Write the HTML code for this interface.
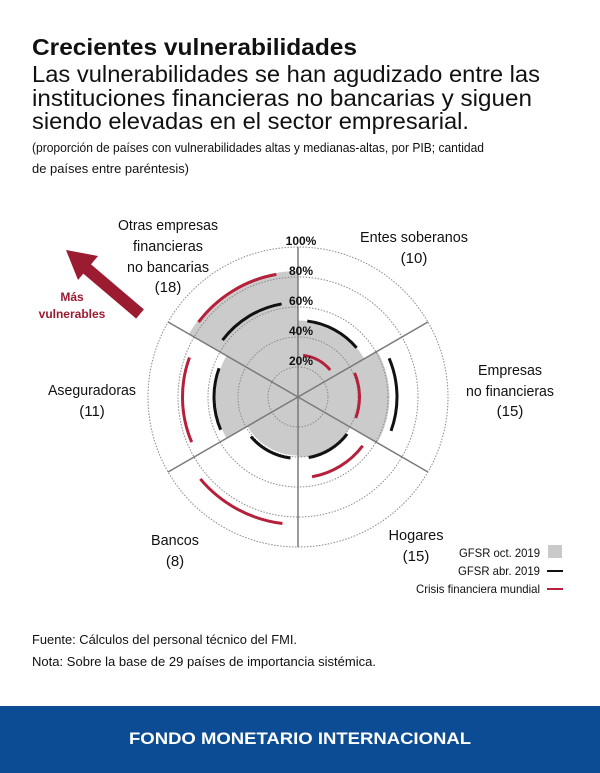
<!DOCTYPE html>
<html><head><meta charset="utf-8"><style>
html,body{margin:0;padding:0;background:#fff;}
svg{display:block;font-family:"Liberation Sans",sans-serif;}
</style></head><body>
<svg id="chart" width="600" height="773" viewBox="0 0 600 773">
<text x="32" y="55" font-size="23" font-weight="bold" fill="#111" textLength="325" lengthAdjust="spacingAndGlyphs">Crecientes vulnerabilidades</text>
<g font-size="23" fill="#111">
<text x="32" y="82" textLength="508" lengthAdjust="spacingAndGlyphs">Las vulnerabilidades se han agudizado entre las</text>
<text x="32" y="106" textLength="500" lengthAdjust="spacingAndGlyphs">instituciones financieras no bancarias y siguen</text>
<text x="32" y="129" textLength="437" lengthAdjust="spacingAndGlyphs">siendo elevadas en el sector empresarial.</text>
</g>
<g font-size="13" fill="#111">
<text x="32" y="152" textLength="452" lengthAdjust="spacingAndGlyphs">(proporción de países con vulnerabilidades altas y medianas-altas, por PIB; cantidad</text>
<text x="32" y="173" textLength="157" lengthAdjust="spacingAndGlyphs">de países entre paréntesis)</text>
</g>
<g id="plot"></g>
<g>
<line x1="140" y1="314" x2="86" y2="268" stroke="#9b1b30" stroke-width="12"/>
<polygon points="66,250 98,256 78,280" fill="#9b1b30"/>
<text x="72" y="301" font-size="12" font-weight="bold" fill="#9b1b30" text-anchor="middle">Más</text>
<text x="72" y="318" font-size="12" font-weight="bold" fill="#9b1b30" text-anchor="middle">vulnerables</text>
</g>
<g font-size="15" fill="#111" text-anchor="middle">
<text x="414" y="242" textLength="108" lengthAdjust="spacingAndGlyphs">Entes soberanos</text><text x="414" y="263">(10)</text>
<text x="510" y="375" textLength="64" lengthAdjust="spacingAndGlyphs">Empresas</text><text x="510" y="396" textLength="88" lengthAdjust="spacingAndGlyphs">no financieras</text><text x="510" y="416">(15)</text>
<text x="416" y="540" textLength="55" lengthAdjust="spacingAndGlyphs">Hogares</text><text x="416" y="561">(15)</text>
<text x="175" y="545" textLength="48" lengthAdjust="spacingAndGlyphs">Bancos</text><text x="175" y="566">(8)</text>
<text x="92" y="395" textLength="88" lengthAdjust="spacingAndGlyphs">Aseguradoras</text><text x="92" y="416">(11)</text>
<text x="168" y="230" textLength="100" lengthAdjust="spacingAndGlyphs">Otras empresas</text><text x="168" y="251" textLength="70" lengthAdjust="spacingAndGlyphs">financieras</text><text x="168" y="272" textLength="82" lengthAdjust="spacingAndGlyphs">no bancarias</text><text x="168" y="292">(18)</text>
</g>
<g font-size="12" fill="#111" text-anchor="end">
<g><text x="540" y="557" textLength="81" lengthAdjust="spacingAndGlyphs">GFSR oct. 2019</text><rect x="548" y="545" width="14" height="13" fill="#c9c9c9"/></g>
<g><text x="540" y="575" textLength="82" lengthAdjust="spacingAndGlyphs">GFSR abr. 2019</text><line x1="547" y1="571" x2="563" y2="571" stroke="#111" stroke-width="2"/></g>
<g><text x="540" y="593" textLength="124" lengthAdjust="spacingAndGlyphs">Crisis financiera mundial</text><line x1="547" y1="589" x2="563" y2="589" stroke="#b5203a" stroke-width="2"/></g>
</g>
<g font-size="13" fill="#111">
<text x="32" y="644" textLength="265" lengthAdjust="spacingAndGlyphs">Fuente: Cálculos del personal técnico del FMI.</text>
<text x="32" y="666" textLength="344" lengthAdjust="spacingAndGlyphs">Nota: Sobre la base de 29 países de importancia sistémica.</text>
</g>
<rect x="0" y="706" width="600" height="67" fill="#0b4c94"/>
<text x="300" y="744" font-size="17" font-weight="bold" fill="#fff" text-anchor="middle" textLength="342" lengthAdjust="spacingAndGlyphs">FONDO MONETARIO INTERNACIONAL</text>
</svg>
<script>
const sectors = ["Entes soberanos","Empresas no financieras","Hogares","Bancos","Aseguradoras","Otras empresas financieras no bancarias"];
const oct2019 = [51, 61, 40, 39, 55, 84];
const abr2019 = [51, 66, 41, 41, 56, 63];
const gfc = [28, 41, 54, 85, 77, 83];
const ringTicks = [20, 40, 60, 80, 100];
const tickLabels = ["20%","40%","60%","80%","100%"];

const NS = "http://www.w3.org/2000/svg";
const cx = 298, cy = 397, R = 150;
const rScale = v => v / 100 * R;
const aScale = i => i * 360 / sectors.length;
const pt = (a, r) => [cx + r * Math.sin(a * Math.PI / 180), cy - r * Math.cos(a * Math.PI / 180)];
const plot = document.getElementById('plot');
function mk(tag, attrs) { const e = document.createElementNS(NS, tag); for (const k in attrs) e.setAttribute(k, attrs[k]); plot.appendChild(e); return e; }
function arcD(a0, a1, r) { const p0 = pt(a0, r), p1 = pt(a1, r); return `M${p0[0]},${p0[1]} A${r},${r} 0 0 1 ${p1[0]},${p1[1]}`; }
const step = 360 / sectors.length;

oct2019.forEach((v, i) => {
  const a0 = aScale(i), a1 = a0 + step, r = rScale(v);
  const p0 = pt(a0, r), p1 = pt(a1, r);
  const el = mk('path', { d: `M${cx},${cy} L${p0[0]},${p0[1]} A${r},${r} 0 0 1 ${p1[0]},${p1[1]} Z`, fill: '#cbcbcb' });
  
  
});
ringTicks.forEach((t) => {
  const el = mk('circle', { cx: cx, cy: cy, r: rScale(t), fill: 'none', stroke: '#8a8a8a', 'stroke-width': 1, 'stroke-dasharray': '1.5,1.5' });
  
  
});
sectors.forEach((s, i) => {
  const p = pt(aScale(i), R);
  const el = mk('line', { x1: cx, y1: cy, x2: p[0], y2: p[1], stroke: '#7a7a7a', 'stroke-width': 1.5 });
  
  
});
abr2019.forEach((v, i) => {
  const a0 = aScale(i) + 7, a1 = aScale(i) + step - 10;
  const el = mk('path', { d: arcD(a0, a1, rScale(v)), fill: 'none', stroke: '#111', 'stroke-width': 3 });
  
  
});
gfc.forEach((v, i) => {
  const a0 = aScale(i) + 7, a1 = aScale(i) + step - 10;
  const el = mk('path', { d: arcD(a0, a1, rScale(v)), fill: 'none', stroke: '#b5203a', 'stroke-width': 3 });
  
  
});
ringTicks.forEach((t, i) => {
  const el = mk('text', { x: cx + 3, y: cy - rScale(t) - 2, 'font-size': 12, 'font-weight': 'bold', fill: '#111', 'text-anchor': 'middle' });
  el.textContent = tickLabels[i];
  
  
});
</script>
</body></html>
